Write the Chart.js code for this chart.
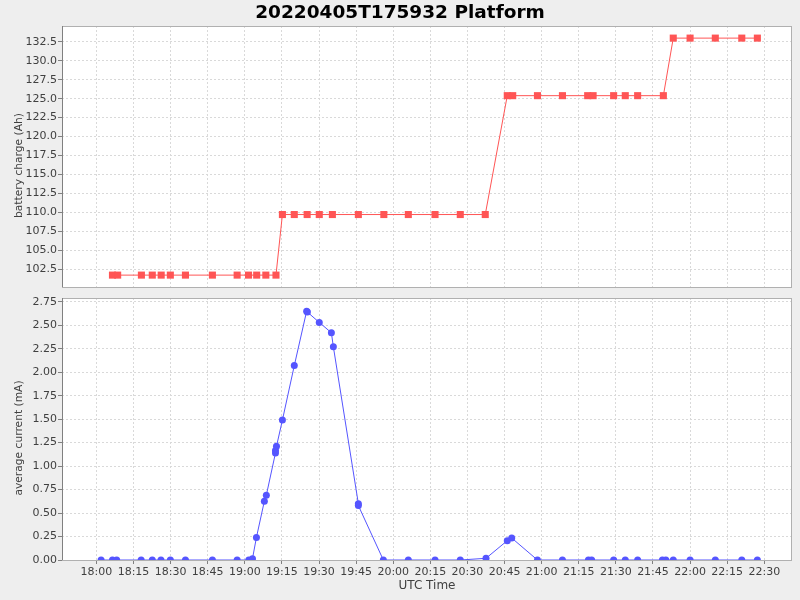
<!DOCTYPE html>
<html>
<head>
<meta charset="utf-8">
<script src="https://cdn.jsdelivr.net/npm/chart.js@4.4.0/dist/chart.umd.min.js"></script>
<style>
body{margin:0;background:#eeeeee;font-family:"DejaVu Sans",sans-serif;}
#wrap{position:relative;width:800px;height:600px;overflow:hidden;}
#title{position:absolute;left:0;top:0;width:800px;text-align:center;font-weight:bold;font-size:18.5px;line-height:24px;color:#000;}
#topChart{position:absolute;left:0;top:0;}
#bottomChart{position:absolute;left:0;top:292px;}
</style>
</head>
<body>
<div id="wrap">
  <canvas id="topChart" width="800" height="292"></canvas>
  <canvas id="bottomChart" width="800" height="308"></canvas>
  <div id="title">20220405T175932 Platform</div>
</div>
<script>
// time axis: minutes after 18:00 UTC
var tickLabels = ['18:00','18:15','18:30','18:45','19:00','19:15','19:30','19:45','20:00','20:15',
                  '20:30','20:45','21:00','21:15','21:30','21:45','22:00','22:15','22:30'];
var chargeTicks = [102.5,105,107.5,110,112.5,115,117.5,120,122.5,125,127.5,130,132.5];
var currentTicks = [0,0.25,0.5,0.75,1,1.25,1.5,1.75,2,2.25,2.5,2.75];

var chargeTimes = [6.5, 8.6, 18.2, 22.6, 26.2, 29.9, 36.0, 46.9, 56.9, 61.5, 64.8, 68.5, 72.6,
                   75.2, 80.0, 85.2, 90.1, 95.4, 105.9, 116.2, 126.1, 136.9, 147.1, 157.2,
                   166.1, 168.3, 178.3, 188.4, 198.6, 200.8, 209.1, 213.8, 218.8, 229.2,
                   233.2, 240.0, 250.2, 260.9, 267.2];
var chargeValues = [101.7, 101.7, 101.7, 101.7, 101.7, 101.7, 101.7, 101.7, 101.7, 101.7, 101.7, 101.7, 101.7,
                    109.7, 109.7, 109.7, 109.7, 109.7, 109.7, 109.7, 109.7, 109.7, 109.7, 109.7,
                    125.4, 125.4, 125.4, 125.4, 125.4, 125.4, 125.4, 125.4, 125.4, 125.4,
                    133.0, 133.0, 133.0, 133.0, 133.0];

var currentTimes = [1.9, 6.5, 8.2, 18.1, 22.6, 26.1, 29.9, 36.0, 46.9, 56.9, 61.6, 63.1, 64.7,
                    67.9, 68.7, 72.4, 72.4, 72.8, 75.2, 80.0, 85.0, 85.3, 90.1, 95.0, 95.8,
                    105.9, 105.9, 116.0, 126.1, 136.9, 147.1, 157.5, 166.1, 167.9, 178.3,
                    188.4, 198.9, 200.2, 209.1, 213.8, 218.8, 228.8, 230.2, 233.2, 240.0,
                    250.2, 260.9, 267.2];
var currentValues = [0, 0, 0, 0, 0, 0, 0, 0, 0, 0, 0, 0.014, 0.24,
                     0.626, 0.69, 1.14, 1.165, 1.21, 1.49, 2.07, 2.65, 2.64, 2.53, 2.42, 2.27,
                     0.60, 0.58, 0, 0, 0, 0, 0.018, 0.206, 0.234, 0,
                     0, 0, 0, 0, 0, 0, 0, 0, 0, 0,
                     0, 0, 0];

var tickMinutes = tickLabels.map(function(t){
  var p = t.split(':');
  return (parseInt(p[0]) - 18) * 60 + parseInt(p[1]);
});

function toPoints(xs, ys){
  return xs.map(function(x, i){ return {x: x, y: ys[i]}; });
}

var plotFrame = {
  id: 'plotFrame',
  beforeDraw: function(chart){
    var a = chart.chartArea, ctx = chart.ctx;
    ctx.save();
    ctx.fillStyle = '#ffffff';
    ctx.fillRect(a.left, a.top, a.right - a.left, a.bottom - a.top);
    ctx.restore();
  },
  afterDraw: function(chart, args, opts){
    var a = chart.chartArea, ctx = chart.ctx;
    ctx.save();
    ctx.strokeStyle = '#b0b0b0';
    ctx.lineWidth = 1;
    ctx.strokeRect(a.left + 0.5, a.top + 0.5, a.right - a.left - 1, a.bottom - a.top);
    ctx.strokeStyle = '#808080';
    ctx.beginPath();
    ctx.moveTo(a.left + 0.5, a.top);
    ctx.lineTo(a.left + 0.5, a.bottom);
    ctx.stroke();
    // y axis label, sits a little below the middle like the original
    ctx.translate(19, (a.top + a.bottom) / 2 + 9);
    ctx.rotate(-Math.PI / 2);
    ctx.fillStyle = '#404040';
    ctx.font = '10.7px "DejaVu Sans"';
    ctx.textAlign = 'center';
    ctx.textBaseline = 'middle';
    ctx.fillText(opts.label, 0, 0);
    ctx.restore();
  }
};

var gridOpts = {color: '#d9d9d9', tickColor: '#808080', tickLength: 4, lineWidth: 1};
var tickFont = {family: 'DejaVu Sans', size: 11};

function xAxis(showLabels){
  return {
    type: 'linear',
    min: -13.9,
    max: 281.2,
    border: {display: false, dash: [2, 2]},
    grid: Object.assign({}, gridOpts, {drawTicks: showLabels}),
    afterBuildTicks: function(s){ s.ticks = tickMinutes.map(function(v){ return {value: v}; }); },
    afterFit: function(s){ s.height = showLabels ? 40 : 0; s.paddingLeft = 0; s.paddingRight = 0; },
    ticks: {
      display: showLabels, autoSkip: false, maxRotation: 0, padding: 2,
      color: '#404040', font: tickFont,
      callback: function(v, i){ return tickLabels[i]; }
    },
    title: {
      display: showLabels, text: 'UTC Time', color: '#404040',
      font: {family: 'DejaVu Sans', size: 12}, padding: {top: 0, bottom: 7}
    }
  };
}

function yAxis(min, max, ticks, digits){
  return {
    min: min,
    max: max,
    border: {display: false, dash: [2, 2]},
    grid: gridOpts,
    afterBuildTicks: function(s){ s.ticks = ticks.map(function(v){ return {value: v}; }); },
    afterFit: function(s){ s.width = 62; s.paddingTop = 0; s.paddingBottom = 0; },
    ticks: {
      padding: 1, color: '#404040', font: tickFont,
      callback: function(v){ return Number(v).toFixed(digits); }
    }
  };
}

var topChart = new Chart(document.getElementById('topChart'), {
  type: 'line',
  data: {
    datasets: [{
      label: 'battery charge',
      data: toPoints(chargeTimes, chargeValues),
      borderColor: '#ff5555',
      backgroundColor: '#ff5555',
      borderWidth: 1,
      pointStyle: 'rect',
      pointRadius: 5,
      pointBorderWidth: 0,
      tension: 0
    }]
  },
  options: {
    responsive: false,
    animation: false,
    devicePixelRatio: 1,
    layout: {padding: {left: 0, right: 8, top: 26, bottom: 4}},
    plugins: {legend: {display: false}, tooltip: {enabled: false},
              plotFrame: {label: 'battery charge (Ah)'}},
    scales: {
      x: xAxis(false),
      y: yAxis(100.13, 134.6, chargeTicks, 1)
    }
  },
  plugins: [plotFrame]
});

var bottomChart = new Chart(document.getElementById('bottomChart'), {
  type: 'line',
  data: {
    datasets: [{
      label: 'average current',
      data: toPoints(currentTimes, currentValues),
      borderColor: '#5555ff',
      backgroundColor: '#5555ff',
      borderWidth: 1,
      pointStyle: 'circle',
      pointRadius: 3.5,
      pointBorderWidth: 0,
      tension: 0
    }]
  },
  options: {
    responsive: false,
    animation: false,
    devicePixelRatio: 1,
    layout: {padding: {left: 0, right: 8, top: 6, bottom: 0}},
    plugins: {legend: {display: false}, tooltip: {enabled: false},
              plotFrame: {label: 'average current (mA)'}},
    scales: {
      x: xAxis(true),
      y: yAxis(0, 2.79, currentTicks, 2)
    }
  },
  plugins: [plotFrame]
});
</script>
</body>
</html>
